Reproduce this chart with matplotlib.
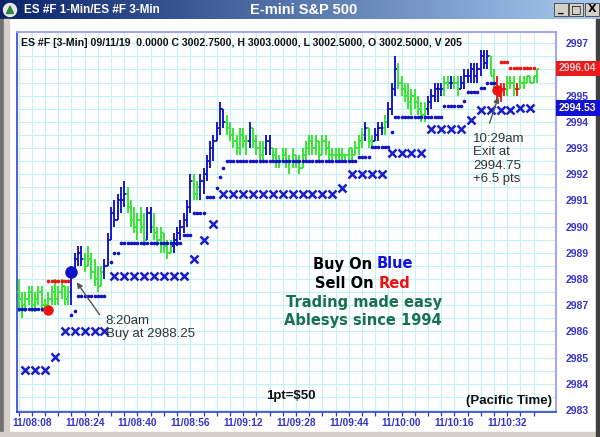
import numpy as np
import matplotlib.pyplot as plt
import matplotlib.colors as mcolors
from matplotlib.patches import Rectangle, Circle, Polygon
from matplotlib.transforms import blended_transform_factory

plt.rcParams['font.family'] = ['Liberation Sans', 'DejaVu Sans']

# ES #F 1-min bars, first bar 11/08:04; open of a bar = close of the bar before
first_open = 2987.5
highs = [2988.0, 2987.5, 2987.5, 2987.75, 2987.75, 2987.5, 2987.75, 2987.75, 2987.25, 2987.5,
         2987.75, 2988.0, 2987.75, 2988.0, 2987.75, 2987.75, 2988.5, 2989.0, 2989.25, 2989.25,
         2989.0, 2989.25, 2989.0, 2988.75, 2988.5, 2988.5, 2988.75, 2989.75, 2990.75, 2991.0,
         2991.25, 2991.5, 2991.75, 2991.5, 2991.0, 2990.75, 2990.5, 2990.75, 2990.5, 2990.75,
         2990.75, 2990.5, 2990.0, 2990.0, 2989.75, 2989.5, 2989.5, 2989.75, 2990.0, 2990.25,
         2990.5, 2991.0, 2992.0, 2992.0, 2991.75, 2992.0, 2992.25, 2992.75, 2993.25, 2993.5,
         2994.0, 2994.75, 2994.5, 2994.25, 2994.0, 2993.75, 2993.5, 2993.75, 2993.75, 2993.5,
         2994.0, 2993.75, 2993.5, 2993.25, 2993.25, 2993.5, 2993.5, 2993.0, 2993.0, 2992.75,
         2993.0, 2993.0, 2992.75, 2993.0, 2992.75, 2992.75, 2993.0, 2993.25, 2993.5, 2993.5,
         2993.5, 2993.25, 2993.5, 2993.5, 2993.25, 2993.0, 2993.0, 2993.0, 2993.0, 2992.75,
         2993.0, 2993.0, 2993.25, 2993.5, 2993.75, 2994.0, 2993.75, 2993.5, 2993.75, 2994.0,
         2994.0, 2994.25, 2994.75, 2995.5, 2996.5, 2996.25, 2995.75, 2995.5, 2995.5, 2995.25,
         2995.25, 2995.0, 2994.75, 2994.75, 2995.0, 2995.25, 2995.5, 2995.5, 2995.5, 2995.75,
         2995.75, 2995.75, 2995.75, 2995.75, 2995.75, 2996.0, 2996.0, 2996.25, 2996.25, 2996.25,
         2996.75, 2996.75, 2996.75, 2996.5, 2996.0, 2995.75, 2995.5, 2995.5, 2995.75, 2995.75,
         2995.75, 2995.5, 2995.75, 2995.75, 2995.75, 2995.75, 2995.75, 2996.0]
lows = [2986.75, 2986.5, 2986.75, 2987.0, 2986.75, 2986.75, 2987.0, 2986.75, 2986.75, 2986.75,
        2987.0, 2987.0, 2987.0, 2987.25, 2987.0, 2987.0, 2987.0, 2988.25, 2988.5, 2988.5,
        2988.25, 2988.5, 2988.0, 2987.75, 2987.5, 2987.75, 2988.0, 2988.5, 2989.5, 2990.0,
        2990.25, 2990.5, 2990.75, 2990.5, 2990.0, 2989.75, 2989.5, 2989.75, 2989.25, 2989.5,
        2989.75, 2989.5, 2989.25, 2989.0, 2989.0, 2988.75, 2989.0, 2989.0, 2989.25, 2989.5,
        2989.75, 2990.0, 2990.5, 2991.0, 2991.0, 2991.0, 2991.25, 2991.75, 2992.25, 2992.5,
        2993.25, 2993.5, 2993.75, 2993.5, 2993.25, 2993.0, 2992.75, 2992.75, 2993.0, 2992.75,
        2993.0, 2993.0, 2992.75, 2992.5, 2992.5, 2992.75, 2992.75, 2992.5, 2992.25, 2992.25,
        2992.5, 2992.25, 2992.0, 2992.25, 2992.25, 2992.0, 2992.25, 2992.5, 2992.75, 2992.75,
        2992.75, 2992.5, 2992.75, 2992.75, 2992.5, 2992.5, 2992.5, 2992.5, 2992.5, 2992.5,
        2992.5, 2992.5, 2992.75, 2992.75, 2993.0, 2993.25, 2993.0, 2993.0, 2993.25, 2993.25,
        2993.5, 2993.5, 2993.75, 2994.25, 2995.0, 2995.25, 2995.0, 2994.75, 2994.5, 2994.25,
        2994.5, 2994.25, 2994.0, 2994.0, 2994.25, 2994.5, 2994.75, 2994.75, 2995.0, 2995.0,
        2995.25, 2995.25, 2995.25, 2995.0, 2995.25, 2995.25, 2995.5, 2995.5, 2995.5, 2995.5,
        2995.75, 2996.0, 2996.0, 2995.75, 2995.25, 2994.75, 2994.75, 2995.0, 2995.0, 2995.25,
        2995.0, 2995.0, 2995.25, 2995.25, 2995.5, 2995.5, 2995.5, 2995.5]
closes = [2987.25, 2987.0, 2987.25, 2987.5, 2987.0, 2987.25, 2987.5, 2987.0, 2987.0, 2987.25,
          2987.5, 2987.25, 2987.5, 2987.75, 2987.25, 2987.5, 2988.25, 2988.75, 2989.0, 2988.75,
          2988.5, 2988.75, 2988.25, 2988.0, 2987.75, 2988.25, 2988.5, 2989.5, 2990.5, 2990.25,
          2991.0, 2991.0, 2991.25, 2990.75, 2990.25, 2990.0, 2990.25, 2990.0, 2989.5, 2990.5,
          2990.0, 2989.75, 2989.5, 2989.75, 2989.25, 2989.0, 2989.25, 2989.5, 2989.75, 2990.0,
          2990.25, 2990.75, 2991.75, 2991.25, 2991.5, 2991.75, 2992.0, 2992.5, 2993.0, 2993.25,
          2993.75, 2994.5, 2994.0, 2993.75, 2993.5, 2993.25, 2993.0, 2993.5, 2993.25, 2993.25,
          2993.75, 2993.25, 2993.0, 2992.75, 2993.0, 2993.25, 2993.0, 2992.75, 2992.5, 2992.5,
          2992.75, 2992.5, 2992.5, 2992.75, 2992.5, 2992.25, 2992.75, 2993.0, 2993.25, 2993.0,
          2993.25, 2992.75, 2993.25, 2993.0, 2992.75, 2992.75, 2992.75, 2992.75, 2992.75, 2992.75,
          2993.0, 2992.75, 2993.0, 2993.25, 2993.5, 2993.75, 2993.25, 2993.25, 2993.5, 2993.75,
          2993.75, 2994.0, 2994.5, 2995.25, 2996.0, 2995.5, 2995.25, 2995.0, 2994.75, 2995.0,
          2994.75, 2994.5, 2994.25, 2994.5, 2994.75, 2995.0, 2995.25, 2995.25, 2995.25, 2995.5,
          2995.5, 2995.5, 2995.5, 2995.25, 2995.5, 2995.75, 2995.75, 2996.0, 2995.75, 2996.0,
          2996.5, 2996.25, 2996.5, 2995.75, 2995.5, 2995.0, 2995.25, 2995.25, 2995.5, 2995.5,
          2995.25, 2995.25, 2995.5, 2995.5, 2995.75, 2995.5, 2995.75, 2996.0]
# b = trending up (blue), g = pullback (green), r = short side (red)
states = ("gggggggggggggggg" "bbbb" "gggggg" "bbbbbbb" "gggggg" "bb" "gggggg" "bbbbbb"
          "gg" "bbbbbbbb" "ggggggg" "b" "gggg" "bb" "gggggggggggggggggggggggggggg" "b"
          "gg" "bbb" "g" "bbb" "ggggggggg" "bbbbb" "gg" "b" "gg" "bbbbbbbbb" "gg" "rrr"
          "ggg" "r" "gggggg")

# trailing stops: (first bar, last bar, level)
blue_stop_segs = [(0, 8, 2986.86), (16, 16, 2986.63), (17, 17, 2986.79), (18, 26, 2987.35),
                  (28, 28, 2988.66), (29, 30, 2988.99), (31, 49, 2989.37), (50, 52, 2989.68),
                  (53, 56, 2990.52), (57, 59, 2991.13), (60, 60, 2991.48), (61, 61, 2991.9),
                  (62, 62, 2992.22), (63, 102, 2992.51), (103, 106, 2992.66), (107, 112, 2993.04),
                  (113, 113, 2993.61), (114, 128, 2994.17), (129, 134, 2994.61), (135, 135, 2994.81),
                  (136, 139, 2995.14), (140, 141, 2995.29), (142, 144, 2995.48)]
red_stop_segs = [(9, 15, 2987.93), (146, 148, 2996.29), (149, 156, 2996.04)]
# 3-min stop, one mark every third bar starting at bar 2
x_stop_first, x_stop_step = 2, 3
x_stop_vals = [2984.52, 2984.52, 2984.52, 2985.02, 2986.01, 2986.01, 2986.01, 2986.01, 2986.01,
               2988.11, 2988.11, 2988.11, 2988.11, 2988.11, 2988.11, 2988.11, 2988.11,
               2988.76, 2989.49, 2990.1,
               2991.23, 2991.23, 2991.23, 2991.23, 2991.23, 2991.23, 2991.23, 2991.23,
               2991.23, 2991.23, 2991.23, 2991.23, 2991.48,
               2992.01, 2992.01, 2992.01, 2992.01, 2992.81, 2992.81, 2992.81, 2992.81,
               2993.73, 2993.73, 2993.73, 2993.73, 2994.07,
               2994.45, 2994.45, 2994.45, 2994.45, 2994.53, 2994.53]

buy_bar, buy_px = 16, 2988.25
sell_bars = [9, 145]
sell_px = [2986.8, 2995.2]

label_bars = [4, 20, 36, 52, 68, 84, 100, 116, 132, 148]
time_labels = ["11/08:08", "11/08:24", "11/08:40", "11/08:56", "11/09:12",
               "11/09:28", "11/09:44", "11/10:00", "11/10:16", "11/10:32"]
price_ticks = [2983, 2984, 2985, 2986, 2987, 2988, 2989, 2990, 2991, 2992, 2993, 2994, 2995, 2997]
last_px, stop_px = 2996.04, 2994.53

BLUE = '#1010c8'
GREEN = '#2ee82e'
RED = '#ee1212'
AXBLUE = '#3434d0'
GRID = '#c4f2f2'

W, H = 600, 437
fig = plt.figure(figsize=(W / 100, H / 100), dpi=100)

# window chrome drawn in pixel coordinates
bg = fig.add_axes([0, 0, 1, 1], zorder=0)
tb = mcolors.LinearSegmentedColormap.from_list('tb', ['#0a246a', '#a6caf0'])
bg.imshow(np.linspace(0, 1, 256).reshape(1, -1), extent=(0, 600, 19, 0), aspect='auto', cmap=tb)
bg.add_patch(Rectangle((0, 19), 4, 418, color='#707070'))
bg.add_patch(Rectangle((4, 19), 5, 418, color='#d4d0c8'))
bg.add_patch(Rectangle((0, 432), 600, 5, color='#d4d0c8'))
bg.add_patch(Rectangle((596, 19), 4, 418, color='#404040'))
bg.add_patch(Circle((10, 10), 6.5, color='#e8e8e8'))
bg.add_patch(Polygon([(6.5, 13.5), (10, 6), (13.5, 13.5)], color='#2f8a3c'))
bg.text(24, 10, "ES #F 1-Min/ES #F 3-Min", color='white', fontsize=8.4,
        fontweight='bold', va='center', ha='left')
bg.text(304, 10, "E-mini S&P 500", color='white', fontsize=10.5,
        fontweight='bold', va='center', ha='center')
for bx, glyph in [(554, '_'), (569, '\u25a1'), (585, 'X')]:
    bg.add_patch(Rectangle((bx, 3), 14, 13, facecolor='#d4d0c8', edgecolor='#404040', lw=0.6))
    bg.text(bx + 7, 9.5, glyph, fontsize=8, fontweight='bold', ha='center', va='center',
            family=['DejaVu Sans'])
bg.set_xlim(0, W)
bg.set_ylim(H, 0)
bg.axis('off')

ax = fig.add_axes([16.7 / W, 1 - 411.5 / H, (556 - 16.7) / W, (411.5 - 32) / H], zorder=2)
ax.set_facecolor('white')

n = len(closes)
bars = np.arange(n)
opens = [first_open] + closes[:-1]
cmap = {'b': BLUE, 'g': GREEN, 'r': RED}
cols = [cmap[s] for s in states]
ax.vlines(bars, lows, highs, colors=cols, lw=1.35, zorder=3)
ax.hlines(opens, bars - 0.5, bars, colors=cols, lw=1.3, zorder=3)
ax.hlines(closes, bars, bars + 0.5, colors=cols, lw=1.3, zorder=3)

for a, b, lvl in blue_stop_segs:
    xs = np.arange(a, b + 1)
    ax.plot(xs, [lvl] * len(xs), 'o', ms=2.6, color=BLUE, mec='none', zorder=4)
for a, b, lvl in red_stop_segs:
    xs = np.arange(a, b + 1)
    ax.plot(xs, [lvl] * len(xs), 'o', ms=2.6, color=RED, mec='none', zorder=4)
xb = x_stop_first + x_stop_step * np.arange(len(x_stop_vals))
ax.plot(xb, x_stop_vals, 'x', ms=6, mew=1.8, color='#1c1cc8', zorder=4)

ax.plot(buy_bar, buy_px, 'o', ms=8, color=BLUE, zorder=5)
ax.plot(sell_bars, sell_px, 'o', ms=7.5, color=RED, mec='none', zorder=5)

ax.set_xlim(-0.6, 162.8)
ax.set_ylim(2982.94, 2997.43)
ax.set_xticks(label_bars)
ax.set_xticklabels(time_labels)
ax.set_xticks(np.arange(0, 157, 4), minor=True)
ax.set_yticks(price_ticks)
ax.set_yticks(np.arange(2983, 2997.5, 0.5), minor=True)
ax.yaxis.tick_right()
ax.grid(which='both', color=GRID, lw=0.8, zorder=0)
ax.set_axisbelow(True)
ax.tick_params(axis='x', which='both', direction='out', length=3, width=0.9,
               color=AXBLUE, labelcolor=AXBLUE, labelsize=7.3, pad=2)
ax.tick_params(axis='y', which='both', length=0, pad=7.2, labelcolor=AXBLUE, labelsize=7.5)
ax.tick_params(axis='y', which='minor', labelright=False)
for lbl in ax.get_xticklabels() + ax.get_yticklabels():
    lbl.set_fontweight('bold')
for side in ['left', 'bottom']:
    ax.spines[side].set_color('#2233cc')
    ax.spines[side].set_linewidth(1.1)
for side in ['top', 'right']:
    ax.spines[side].set_color('#9c9cf0')
    ax.spines[side].set_linewidth(1.3)

# price tags at the right edge
tr = blended_transform_factory(ax.transAxes, ax.transData)
for px, fc, tc in [(last_px, '#ee1a1a', '#d0d0d0'), (stop_px, '#1010d8', '#ffffc8')]:
    ax.add_patch(Rectangle((1.0, px - 0.29), 0.09, 0.58, transform=tr, facecolor=fc,
                           edgecolor='none', clip_on=False, zorder=6))
    ax.text(1.004, px, f"{px:.2f}", transform=tr, ha='left', va='center', fontsize=7.5,
            fontweight='bold', color=tc, clip_on=False, zorder=7)

# signal notes
ax.annotate("", xy=(17.1, 2987.96), xytext=(25.0, 2986.55),
            arrowprops=dict(arrowstyle='-|>', color='#555555', lw=1.0, mutation_scale=8), zorder=6)
ax.text(26.4, 2986.15, "8:20am\nBuy at 2988.25", fontsize=9.5, color='#333333',
        ha='left', va='center', linespacing=1.15, zorder=6)
ax.annotate("", xy=(145.6, 2995.05), xytext=(142.4, 2993.85),
            arrowprops=dict(arrowstyle='-|>', color='#555555', lw=1.0, mutation_scale=8), zorder=6)
ax.text(137.6, 2992.58, "10:29am\nExit at\n2994.75\n+6.5 pts", fontsize=9.5, color='#333333',
        ha='left', va='center', linespacing=1.12, zorder=6)

# overlay texts in pixel coordinates
fg = fig.add_axes([0, 0, 1, 1], zorder=3)
fg.set_xlim(0, W)
fg.set_ylim(H, 0)
fg.axis('off')
fg.text(21, 43, "ES #F [3-Min] 09/11/19  0.0000 C 3002.7500, H 3003.0000, L 3002.5000, "
        "O 3002.5000, V 205", fontsize=7.6, fontweight='bold', color='#111111',
        ha='left', va='center')

big = dict(fontsize=10.5, fontweight='bold', family=['DejaVu Sans'], va='center')
t1 = fg.text(313, 264, "Buy On", color='black', ha='left', **big)
fg.annotate("Blue", xy=(1, 0.5), xycoords=t1, xytext=(3.5, 0), textcoords='offset points',
            color='#1010e6', ha='left', **big)
t2 = fg.text(315, 283, "Sell On", color='black', ha='left', **big)
fg.annotate("Red", xy=(1, 0.5), xycoords=t2, xytext=(3.5, 0), textcoords='offset points',
            color='#f01010', ha='left', **big)
fg.text(364, 302, "Trading made easy", color='#17704f', ha='center', **big)
fg.text(363, 321, "Ablesys since 1994", color='#17704f', ha='center', **big)
fg.text(291, 396, "1pt=$50", fontsize=9.5, fontweight='bold', color='#111111',
        ha='center', va='center')
fg.text(509, 401, "(Pacific Time)", fontsize=9.5, fontweight='bold', color='#111111',
        ha='center', va='center')

fig.savefig('out.png', dpi=100)
